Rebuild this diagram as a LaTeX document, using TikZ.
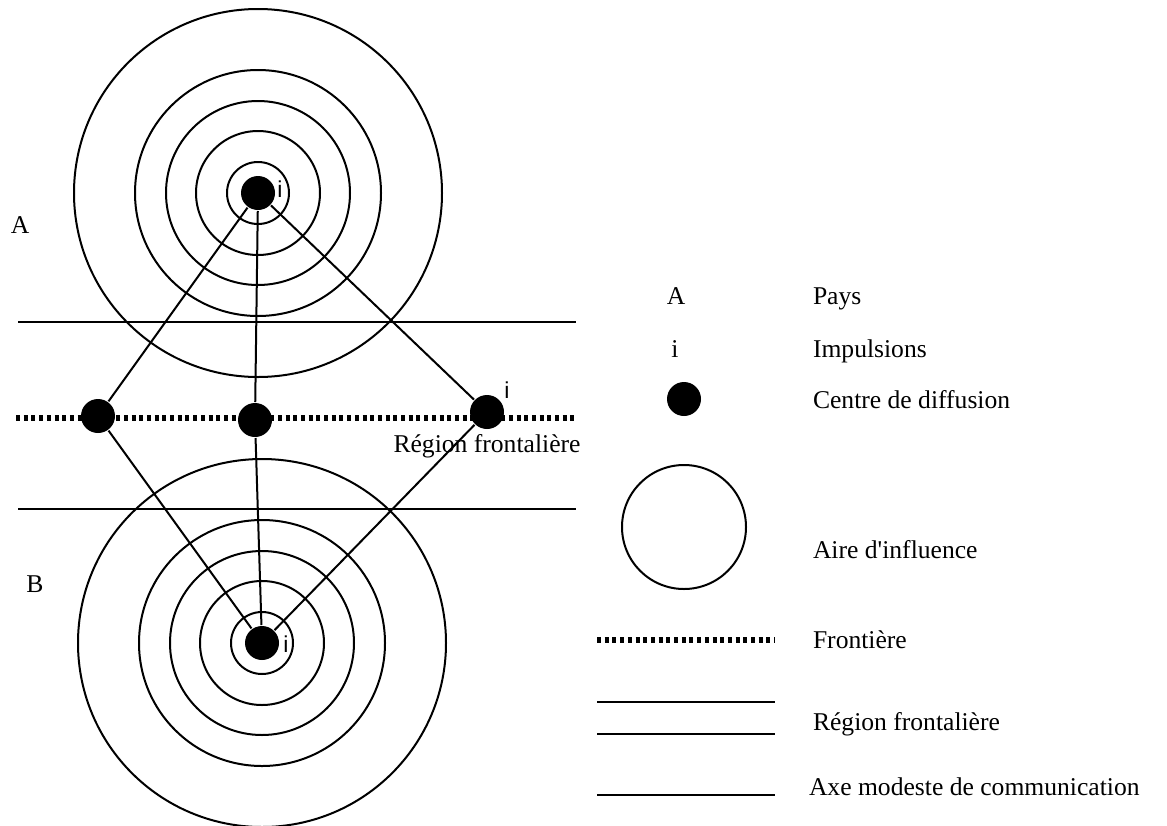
\documentclass[tikz,border=0pt]{standalone}
\usepackage{fontspec}
\setmainfont{Liberation Serif}
\newfontfamily\impfont{Liberation Sans}
\usetikzlibrary{positioning}
\begin{document}
\begin{tikzpicture}[x=1pt, y=-1pt, line width=2pt,
    ctr/.style={circle, fill=black, inner sep=0pt, minimum size=34pt},
    txt/.style={font=\fontsize{25.6}{30}\selectfont, inner sep=0pt, anchor=base west},
    imp/.style={font=\impfont\fontsize{23}{28}\selectfont, inner sep=0pt, anchor=base},
    frontier/.style={line width=5.5pt, dash pattern=on 4pt off 3.7pt}]
    \useasboundingbox (0,0) rectangle (1167,825);

    % centres de diffusion
    \node[ctr] (ctrA) at (258,193) {};
    \node[ctr] (ctrB) at (262,643) {};
    \node[ctr] (frL) at (98,416) {};
    \node[ctr] (frM) at (255,420) {};
    \node[ctr] (frR) at (487,412) {};

    % aires d'influence
    \foreach \r in {31,62,92,123,184} {
        \draw (ctrA) circle[radius=\r];
        \draw (ctrB) circle[radius=\r];
    }

    % region frontaliere et frontiere
    \draw (18,322) -- (576,322);
    \draw (18,509) -- (576,509);
    \draw[frontier] (16,418) -- (576,418);

    % axes de communication
    \draw (ctrA) -- (frL);
    \draw (ctrA) -- (frM);
    \draw (ctrA) -- (frR);
    \draw (ctrB) -- (frL);
    \draw (ctrB) -- (frM);
    \draw (ctrB) -- (frR);

    % impulsions
    \node[imp] (impA) at (280,197) {i};
    \node[imp] (impB) at (286,652) {i};
    \node[imp] (impR) at (507,398) {i};

    % pays
    \node[txt, anchor=base] (paysA) at (20,233) {A};
    \node[txt, anchor=base] (paysB) at (35,592) {B};
    \node[txt, anchor=base] (region) at (487,452) {Région frontalière};

    % legende
    \node[txt, anchor=base] (lgA) at (676,304) {A};
    \node[txt] (lgPays) at (812,304) {Pays};
    \node[txt, anchor=base] (lgI) at (675,357) {i};
    \node[txt] (lgImp) at (812,357) {Impulsions};
    \node[ctr] (lgCtr) at (684,399) {};
    \node[txt] (lgCentre) at (812,408) {Centre de diffusion};
    \draw (684,527) circle[radius=62];
    \node[txt] (lgAire) at (812,558) {Aire d\textquotesingle influence};
    \draw[frontier] (597,640) -- (775,640);
    \node[txt] (lgFront) at (812,648) {Frontière};
    \draw (597,702) -- (775,702);
    \draw (597,734) -- (775,734);
    \node[txt] (lgRegion) at (812,730) {Région frontalière};
    \draw (597,795) -- (775,795);
    \node[txt] (lgAxe) at (808,795) {Axe modeste de communication};
\end{tikzpicture}
\end{document}
